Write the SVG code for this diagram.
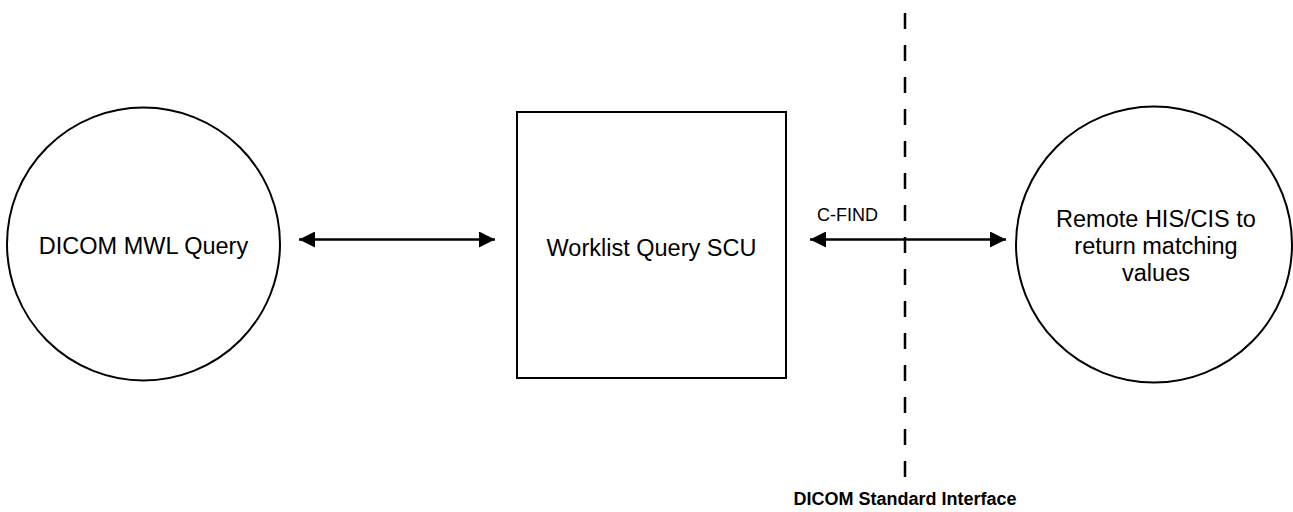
<svg xmlns="http://www.w3.org/2000/svg" width="1293" height="512" viewBox="0 0 1293 512">
  <style>
    .shape { fill: #ffffff; stroke: #000000; stroke-width: 2; }
    .label { font-family: "Liberation Sans", Arial, sans-serif; font-size: 23.5px; fill: #000000; text-anchor: middle; }
    .small { font-family: "Liberation Sans", Arial, sans-serif; font-size: 18px; fill: #000000; }
    .bold { font-family: "Liberation Sans", Arial, sans-serif; font-size: 18px; font-weight: bold; fill: #000000; text-anchor: middle; }
    .conn { stroke: #000000; stroke-width: 2.5; fill: none; marker-start: url(#ah); marker-end: url(#ah); }
    .divider { stroke: #000000; stroke-width: 2.5; stroke-dasharray: 16 16; fill: none; }
  </style>
  <defs>
    <marker id="ah" viewBox="0 0 16 16" refX="16" refY="8" markerWidth="16" markerHeight="16" markerUnits="userSpaceOnUse" orient="auto-start-reverse">
      <path d="M0,0 L16,8 L0,16 Z" fill="#000000"/>
    </marker>
  </defs>
  <rect width="1293" height="512" fill="#ffffff"/>

  <g id="divider">
    <line class="divider" x1="905" y1="13" x2="905" y2="477"/>
    <text class="bold" x="905" y="505">DICOM Standard Interface</text>
  </g>

  <g id="mwl-query">
    <circle class="shape" cx="143.5" cy="244" r="136.5"/>
    <text class="label" x="143.5" y="254">DICOM MWL Query</text>
  </g>

  <g id="worklist-scu">
    <rect class="shape" x="517" y="112" width="269" height="266"/>
    <text class="label" x="651.5" y="256">Worklist Query SCU</text>
  </g>

  <g id="remote-his">
    <circle class="shape" cx="1154" cy="244.5" r="138"/>
    <text class="label" x="1156" y="227">Remote HIS/CIS to</text>
    <text class="label" x="1156" y="254">return matching</text>
    <text class="label" x="1156" y="281">values</text>
  </g>

  <g id="connectors">
    <line class="conn" x1="299" y1="239.5" x2="495" y2="239.5"/>
    <line class="conn" x1="810" y1="239.5" x2="1006" y2="239.5"/>
    <text class="small" x="817" y="221">C-FIND</text>
  </g>
</svg>
